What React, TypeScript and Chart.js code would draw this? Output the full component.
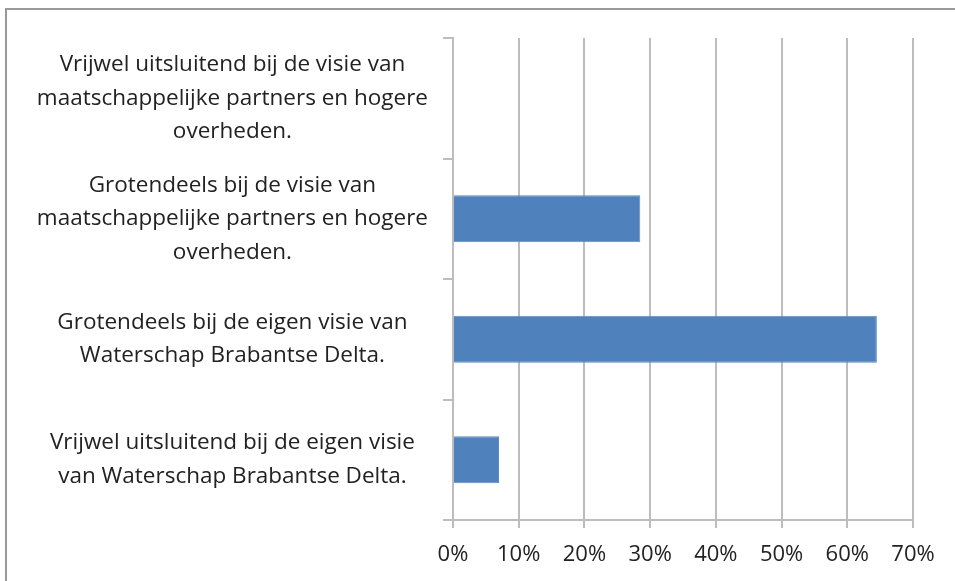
import React, { useEffect, useRef } from "react";
import { Chart, registerables } from "chart.js";

Chart.register(...registerables);

const categories: string[][] = [
  ["Vrijwel uitsluitend bij de visie van", "maatschappelijke partners en hogere", "overheden."],
  ["Grotendeels bij de visie van", "maatschappelijke partners en hogere", "overheden."],
  ["Grotendeels bij de eigen visie van", "Waterschap Brabantse Delta."],
  ["Vrijwel uitsluitend bij de eigen visie", "van Waterschap Brabantse Delta."],
];
const values: number[] = [0, 0.285, 0.645, 0.07];
const xTicks: number[] = [0, 0.1, 0.2, 0.3, 0.4, 0.5, 0.6, 0.7];

export default function App() {
  const ref = useRef<HTMLCanvasElement | null>(null);
  useEffect(() => {
    if (!ref.current) return;
    const chart = new Chart(ref.current, {
      type: "bar",
      data: {
        labels: categories,
        datasets: [
          {
            data: values,
            backgroundColor: "#4F81BD",
            borderColor: "#5b8cc6",
            borderWidth: 1,
            barPercentage: 0.39,
            categoryPercentage: 1,
          },
        ],
      },
      options: {
        indexAxis: "y",
        animation: false,
        responsive: false,
        layout: { padding: { left: 0, top: 38, right: 42, bottom: 0 } },
        plugins: { legend: { display: false }, tooltip: { enabled: false } },
        scales: {
          x: {
            min: 0,
            max: 0.7,
            afterBuildTicks: (s: any) => {
              s.ticks = xTicks.map((v) => ({ value: v }));
            },
            afterFit: (s: any) => {
              s.height = 61;
            },
            grid: { color: "#bdbdbd", lineWidth: 2, tickLength: 8, drawTicks: true },
            border: { color: "#bdbdbd", width: 2 },
            ticks: {
              color: "#222",
              padding: 14,
              maxRotation: 0,
              font: { family: "Open Sans", size: 22 },
              callback: (v: any) => Math.round(Number(v) * 100) + "%",
            },
          },
          y: {
            afterFit: (s: any) => {
              s.width = 453;
              s.paddingTop = 0;
              s.paddingBottom = 0;
            },
            grid: { drawOnChartArea: false, color: "#bdbdbd", lineWidth: 2, tickLength: 10, offset: true },
            border: { color: "#bdbdbd", width: 2 },
            ticks: {
              color: "#222",
              padding: 15,
              crossAlign: "center",
              font: { family: "Open Sans", size: 22.5, lineHeight: 1.49 },
            },
          },
        },
      },
    });
    return () => chart.destroy();
  }, []);
  return (
    <div style={{ position: "fixed", left: 0, top: 0, width: 955, height: 581, background: "#fff", overflow: "hidden" }}>
      <div
        style={{
          position: "absolute",
          left: 5,
          top: 8,
          width: 1000,
          height: 700,
          border: "2px solid #999",
          boxSizing: "border-box",
        }}
      />
      <canvas ref={ref} width={955} height={581} style={{ position: "absolute", left: 0, top: 0 }} />
    </div>
  );
}
